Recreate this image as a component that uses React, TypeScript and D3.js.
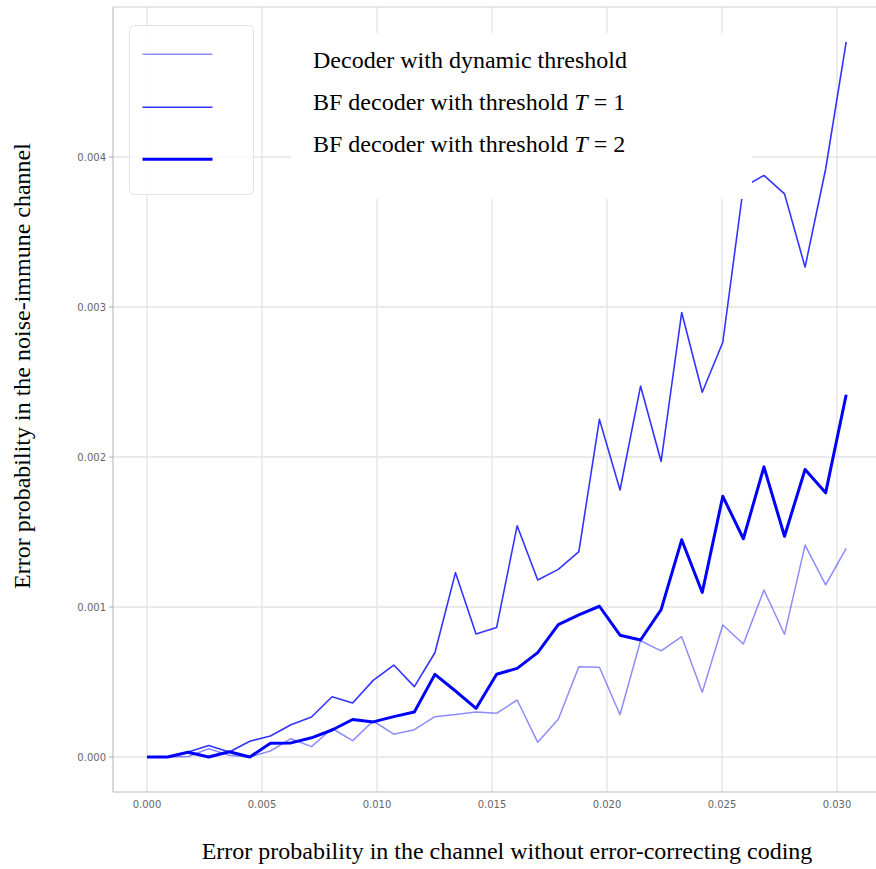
import React from "react";
import * as d3 from "d3";

// channel error probability (x)
const pChannel = [
  0, 0.000894, 0.001788, 0.002682, 0.003576, 0.004471, 0.005365, 0.006259, 0.007153,
  0.008047, 0.008941, 0.009835, 0.010729, 0.011624, 0.012518, 0.013412, 0.014306,
  0.0152, 0.016094, 0.016988, 0.017882, 0.018776, 0.019671, 0.020565, 0.021459,
  0.022353, 0.023247, 0.024141, 0.025035, 0.025929, 0.026824, 0.027718, 0.028612,
  0.029506, 0.0304,
];

const dynamicThreshold = [
  0, 0, 0.000003, 0.000055, 0.000012, 0.0, 0.00004, 0.000122, 0.000069, 0.00019,
  0.000109, 0.00024, 0.000152, 0.000182, 0.000269, 0.000284, 0.0003, 0.000291, 0.00038,
  0.000098, 0.000251, 0.000602, 0.000598, 0.000282, 0.000775, 0.000707, 0.000802,
  0.000431, 0.00088, 0.000753, 0.001113, 0.000818, 0.001413, 0.001147, 0.001391,
];

const bfT1 = [
  0, 0, 0.000033, 0.000077, 0.000033, 0.000105, 0.00014, 0.000215, 0.000267, 0.000402,
  0.00036, 0.000511, 0.000613, 0.000469, 0.000695, 0.001229, 0.00082, 0.000863, 0.001542,
  0.00118, 0.001251, 0.001369, 0.002251, 0.00178, 0.002473, 0.00197, 0.002963, 0.002432,
  0.002765, 0.0038, 0.003877, 0.003754, 0.003266, 0.00392, 0.004767,
];

const bfT2 = [
  0, 0, 0.000032, 0, 0.000035, 0, 0.000091, 0.000094, 0.000128, 0.00018, 0.00025,
  0.000234, 0.000269, 0.0003, 0.000551, 0.00044, 0.000324, 0.000552, 0.000591, 0.000696,
  0.000882, 0.000947, 0.001005, 0.000812, 0.00078, 0.000982, 0.001448, 0.001097,
  0.001738, 0.001455, 0.001934, 0.001472, 0.001917, 0.001761, 0.002415,
];

const xTicks = [0, 0.005, 0.01, 0.015, 0.02, 0.025, 0.03];
const yTicks = [0, 0.001, 0.002, 0.003, 0.004];

const legendLabels = [
  { pre: "Decoder with dynamic threshold", italic: "", post: "" },
  { pre: "BF decoder with threshold ", italic: "T", post: " = 1" },
  { pre: "BF decoder with threshold ", italic: "T", post: " = 2" },
];

const seriesStyles = [
  { opacity: 0.45, width: 1.5 },
  { opacity: 0.8, width: 1.6 },
  { opacity: 1, width: 3 },
];

export default function App() {
  const W = 876;
  const H = 869;
  const frame = { left: 113, right: 880, top: 7, bottom: 792 };
  const x = d3.scaleLinear().domain([0, 0.03]).range([147, 837]);
  const y = d3.scaleLinear().domain([0, 0.004]).range([757, 157]);

  const series = [dynamicThreshold, bfT1, bfT2];
  const line = d3
    .line<number>()
    .x((_, i) => x(pChannel[i]))
    .y((d) => y(d));

  const tickFont = "DejaVu Sans, sans-serif";
  const serif = "Liberation Serif, 'Times New Roman', serif";
  const legendBaselines = [68.3, 110, 151.7];
  const legendLineY = [54.3, 107.3, 159.3];

  return (
    <svg
      width={W}
      height={H}
      viewBox={`0 0 ${W} ${H}`}
      style={{ position: "absolute", left: 0, top: 0, display: "block", background: "#fff" }}
    >
      <rect x={0} y={0} width={W} height={H} fill="#fff" />
      {/* gridlines */}
      <g stroke="#e3e3e3" strokeWidth={1.3}>
        {xTicks.map((t) => (
          <line key={"gx" + t} x1={x(t)} x2={x(t)} y1={frame.top} y2={frame.bottom} />
        ))}
        {yTicks.map((t) => (
          <line key={"gy" + t} x1={frame.left} x2={frame.right} y1={y(t)} y2={y(t)} />
        ))}
      </g>
      {/* frame */}
      <g stroke="#cfcfcf" fill="none">
        <line x1={frame.left} x2={frame.right} y1={frame.top} y2={frame.top} strokeWidth={1.2} />
        <line x1={frame.left} x2={frame.left} y1={frame.top} y2={frame.bottom} strokeWidth={1.6} />
        <line x1={frame.left} x2={frame.right} y1={frame.bottom} y2={frame.bottom} strokeWidth={1.6} />
      </g>
      {/* y ticks */}
      <g>
        {yTicks.map((t) => (
          <g key={"yt" + t}>
            <line x1={frame.left - 4} x2={frame.left} y1={y(t)} y2={y(t)} stroke="#aaa" strokeWidth={1} />
            <text
              x={frame.left - 7}
              y={y(t)}
              dy="0.35em"
              textAnchor="end"
              fontFamily={tickFont}
              fontSize={10}
              fill="#666"
            >
              {d3.format(".3f")(t)}
            </text>
          </g>
        ))}
      </g>
      {/* x ticks */}
      <g>
        {xTicks.map((t) => (
          <text
            key={"xt" + t}
            x={x(t)}
            y={804}
            dy="0.35em"
            textAnchor="middle"
            fontFamily={tickFont}
            fontSize={10}
            fill="#666"
          >
            {d3.format(".3f")(t)}
          </text>
        ))}
      </g>
      {/* legend box */}
      <rect
        x={129.5}
        y={25.5}
        width={124}
        height={169}
        rx={5}
        fill="#fff"
        fillOpacity={0.8}
        stroke="#e2e2e2"
        strokeWidth={1}
      />
      {/* data lines */}
      {series.map((s, i) => (
        <path
          key={"s" + i}
          d={line(s) || ""}
          fill="none"
          stroke="blue"
          strokeOpacity={seriesStyles[i].opacity}
          strokeWidth={seriesStyles[i].width}
          strokeLinejoin="round"
        />
      ))}
      {/* legend lines */}
      {seriesStyles.map((st, i) => (
        <line
          key={"ll" + i}
          x1={142.5}
          x2={212.5}
          y1={legendLineY[i]}
          y2={legendLineY[i]}
          stroke="blue"
          strokeOpacity={st.opacity}
          strokeWidth={st.width}
        />
      ))}
      {/* pasted legend label panel */}
      <rect x={291} y={33} width={461} height={166} fill="#fff" />
      {legendLabels.map((l, i) => (
        <text key={"lt" + i} x={313} y={legendBaselines[i]} fontFamily={serif} fontSize={24} fill="#000">
          {l.pre}
          {l.italic ? <tspan fontStyle="italic">{l.italic}</tspan> : null}
          {l.post}
        </text>
      ))}
      {/* axis titles */}
      <text x={507} y={859} textAnchor="middle" fontFamily={serif} fontSize={24} fill="#000">
        Error probability in the channel without error-correcting coding
      </text>
      <text
        transform="translate(30,366) rotate(-90)"
        textAnchor="middle"
        fontFamily={serif}
        fontSize={24}
        fill="#000"
      >
        Error probability in the noise-immune channel
      </text>
    </svg>
  );
}
